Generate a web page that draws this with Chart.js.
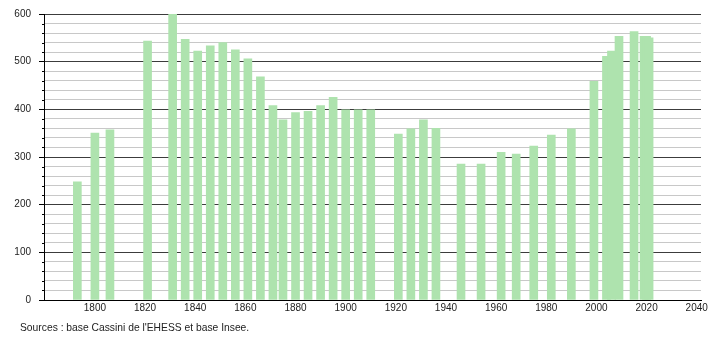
<!DOCTYPE html>
<html>
<head>
<meta charset="utf-8">
<script src="https://cdn.jsdelivr.net/npm/chart.js@4/dist/chart.umd.min.js"></script>
<style>
  html, body { margin: 0; padding: 0; background: #fff; }
  #wrap { position: relative; width: 710px; height: 340px; }
  #c { position: absolute; left: 0; top: 0; }
  #src { position: absolute; left: 20px; top: 322px; font: 10.3px "Liberation Sans", Arial, sans-serif; color: #222; white-space: nowrap; }
</style>
</head>
<body>
<div id="wrap">
  <canvas id="c" width="710" height="340"></canvas>
  <div id="src">Sources : base Cassini de l'EHESS et base Insee.</div>
</div>
<script>
// Census years and population values
const YEARS = [1793, 1800, 1806, 1821, 1831, 1836, 1841, 1846, 1851, 1856,
               1861, 1866, 1871, 1875, 1880, 1885, 1890, 1895, 1900, 1905,
               1910, 1921, 1926, 1931, 1936, 1946, 1954, 1962, 1968, 1975,
               1982, 1990, 1999, 2004, 2006, 2009, 2015, 2019, 2020, 2021];
const POPULATION = [248, 350, 357, 543, 600, 547, 522, 533, 540, 525,
                    506, 468, 408, 378, 393, 396, 408, 425, 399, 399,
                    399, 348, 359, 378, 360, 285, 285, 310, 306, 323,
                    346, 359, 459, 511, 522, 553, 563, 553, 553, 550];
const X_TICKS = [1800, 1820, 1840, 1860, 1880, 1900, 1920, 1940, 1960, 1980, 2000, 2020, 2040];
const Y_MAJOR = [0, 100, 200, 300, 400, 500, 600];

const BAR_COLOR = 'rgb(174,227,174)';
const MAJOR_GRID = '#3c3c3c';
const MINOR_GRID = '#c8c8c8';

const minorTicks = {
  id: 'minorTicks',
  afterDraw(chart) {
    const y = chart.scales.y;
    const ctx = chart.ctx;
    ctx.save();
    ctx.strokeStyle = '#000';
    ctx.lineWidth = 1;
    y.ticks.forEach(t => {
      if (t.value % 100 !== 0) {
        const py = Math.round(y.getPixelForValue(t.value)) + 0.5;
        ctx.beginPath();
        ctx.moveTo(y.right - 2, py);
        ctx.lineTo(y.right, py);
        ctx.stroke();
      }
    });
    ctx.restore();
  }
};

new Chart(document.getElementById('c'), {
  type: 'bar',
  data: {
    datasets: [{
      data: YEARS.map((yr, i) => ({ x: yr, y: POPULATION[i] })),
      backgroundColor: BAR_COLOR,
      borderWidth: 0,
      barThickness: 8
    }]
  },
  options: {
    responsive: false,
    animation: false,
    events: [],
    layout: { padding: { left: 0, right: 9, top: 10, bottom: 22 } },
    plugins: { legend: { display: false }, tooltip: { enabled: false } },
    scales: {
      x: {
        type: 'linear',
        offset: false,
        min: 1779.7,
        max: 2041.7,
        afterBuildTicks: s => { s.ticks = X_TICKS.map(v => ({ value: v })); },
        afterFit: s => { s.height = 18; },
        ticks: {
          callback: v => String(v),
          color: '#222',
          padding: 2,
          maxRotation: 0,
          autoSkip: false,
          font: { family: '"Liberation Sans", Arial, sans-serif', size: 10 }
        },
        grid: { display: false, drawTicks: false, offset: false },
        border: { display: true, color: '#000', width: 1 }
      },
      y: {
        min: 0,
        max: 600,
        afterFit: s => { s.width = 44; },
        ticks: {
          stepSize: 20,
          autoSkip: false,
          padding: 8,
          color: '#222',
          callback: v => (Y_MAJOR.includes(v) ? String(v) : ''),
          font: { family: '"Liberation Sans", Arial, sans-serif', size: 10 }
        },
        grid: {
          color: ctx => (ctx.tick && ctx.tick.value % 100 === 0 ? MAJOR_GRID : MINOR_GRID),
          tickColor: ctx => (ctx.tick && ctx.tick.value % 100 === 0 ? '#000' : 'rgba(0,0,0,0)'),
          tickLength: 5,
          lineWidth: 1
        },
        border: { display: true, color: '#000', width: 1 }
      }
    }
  },
  plugins: [minorTicks]
});
</script>
</body>
</html>
